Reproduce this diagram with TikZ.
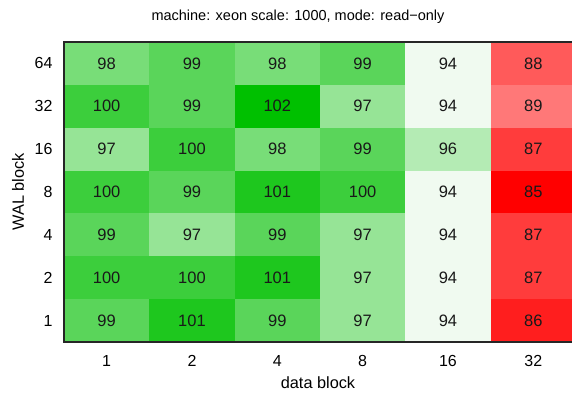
\documentclass[tikz,border=0pt]{standalone}
\usepackage{fontspec}
\setmainfont{Liberation Sans}
\begin{document}
\begin{tikzpicture}[x=1pt,y=-1pt,
  cellnum/.style={font=\fontsize{16.5}{16.5}\selectfont, text=black!90},
  ticklab/.style={font=\fontsize{16}{16}\selectfont},
  axlab/.style={font=\fontsize{16.3}{16.3}\selectfont},
  titlelab/.style={font=\fontsize{14.5}{14.5}\selectfont},
  frameline/.style={draw=black!85, line width=1.3pt}]
\useasboundingbox (0,0) rectangle (572,394);
\fill[white] (0,0) rectangle (572,394);
\begin{scope}
\clip (0,0) rectangle (572,394);
\def\cw{85.33}
\def\rh{42.857}
\foreach \rowvals [count=\r from 0] in {
  {98,99,98,99,94,88},
  {100,99,102,97,94,89},
  {97,100,98,99,96,87},
  {100,99,101,100,94,85},
  {99,97,99,97,94,87},
  {100,100,101,97,94,87},
  {99,101,99,97,94,86}} {
  \foreach \v [count=\c from 0] in \rowvals {
    \ifnum\v<94
      \pgfmathtruncatemacro\RR{255}
      \pgfmathtruncatemacro\GG{30*(\v-85)}
      \pgfmathtruncatemacro\BB{30*(\v-85)}
    \else
      \pgfmathtruncatemacro\RR{240-30*(\v-94)}
      \pgfmathtruncatemacro\GG{250-7.25*(\v-94)}
      \pgfmathtruncatemacro\BB{240-30*(\v-94)}
    \fi
    \fill[fill={rgb,255:red,\RR;green,\GG;blue,\BB}]
      ({64+\c*\cw},{42+\r*\rh}) rectangle ({64+(\c+1)*\cw},{42+(\r+1)*\rh});
    \node[cellnum] (c-\r-\c) at ({64+(\c+0.5)*\cw},{42+(\r+0.5)*\rh}) {\v};
  }
}
\draw[frameline] (580,42) -- (64,42) -- (64,342) -- (580,342);
\end{scope}
\foreach \lab [count=\r from 0] in {64,32,16,8,4,2,1} {
  \node[ticklab, anchor=east] (yt-\r) at (56,{42+(\r+0.5)*42.857}) {\lab};
}
\foreach \lab [count=\c from 0] in {1,2,4,8,16,32} {
  \node[ticklab] (xt-\c) at ({64+(\c+0.5)*85.33},361) {\lab};
}
\node[axlab] (xlab) at (318,383) {data block};
\node[axlab, rotate=90] (ylab) at (18,192) {WAL block};
\node[titlelab] (title) at (298,17) {machine: xeon scale: 1000, mode: read−only};
\end{tikzpicture}
\end{document}
